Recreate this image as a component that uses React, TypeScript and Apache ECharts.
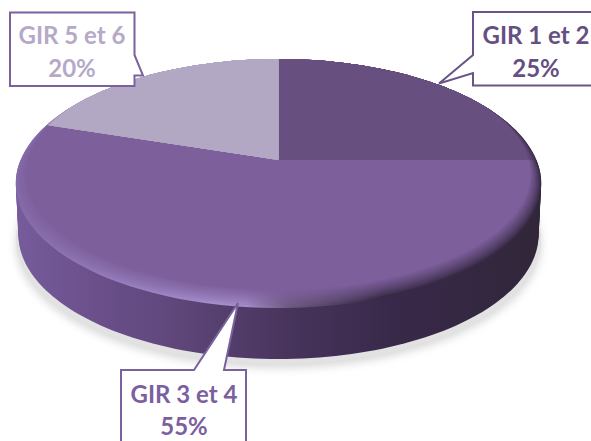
import React, { useEffect, useRef } from "react";
import * as echarts from "echarts";

const categories = ["GIR 1 et 2", "GIR 3 et 4", "GIR 5 et 6"];
const shares = [25, 55, 20];
const faceColors = ["#674f80", "#7d5f9c", "#b3a8c4"];
const labelColors = ["#654f83", "#7c5f9f", "#b5a9c7"];
const borderColors = ["#6a5387", "#7b619e", "#7b619e"];

// Callout outlines: [points], [text x, line 1 y, line 2 y]
const calloutShapes = [
  [[473, 12], [600, 12], [600, 85.5], [473, 85.5], [473, 73], [439, 83.5], [473, 55]],
  [[121, 370], [194, 370], [238, 303], [224, 370], [246, 370], [246, 450], [121, 450]],
  [[10, 12.5], [134.5, 12.5], [134.5, 55], [143, 75.5], [134.5, 75.5], [134.5, 86], [10, 86]],
];
const calloutText = [
  [536, 34, 67],
  [184, 393, 425],
  [72, 34, 67],
];

const CX = 278.5;
const TOP = 59;
const P = -0.1588;
const A = 84.96;
const B = 217;
const DEPTH = 52;
const LAYERS = 10;
const WALL_STEP = 3;

const hex = (c: string) => [1, 3, 5].map((i) => parseInt(c.slice(i, i + 2), 16));
const mix = (a: string, b: string, k: number) => {
  const x = hex(a);
  const y = hex(b);
  return `rgb(${x.map((v, i) => Math.round(v + (y[i] - v) * k)).join(",")})`;
};

// Disc coordinates (u right, v down, in [-1, 1]) to the tilted perspective picture.
const project = (u: number, v: number, dy = 0, sx = 1) => {
  const s = v + 1;
  const q = 1 + P * s;
  return [CX + (sx * B * u) / q, TOP + (A * s) / q + dy];
};
const disc = (t: number) => {
  const a = 2 * Math.PI * t;
  return [Math.sin(a), -Math.cos(a)];
};
const arc = (t0: number, t1: number) => {
  const out: number[] = [];
  const n = Math.max(2, Math.ceil((t1 - t0) * 240));
  for (let i = 0; i <= n; i++) out.push(t0 + ((t1 - t0) * i) / n);
  return out;
};
const total = shares.reduce((a, b) => a + b, 0);
const range = (i: number) => {
  const before = shares.slice(0, i).reduce((a, b) => a + b, 0);
  return [before / total, (before + shares[i]) / total];
};

const wallFill = () =>
  new echarts.graphic.LinearGradient(
    14, 0, 541, 0,
    [
      { offset: 0, color: "#775c9c" },
      { offset: 0.16, color: "#6a4f8a" },
      { offset: 0.32, color: "#5e4679" },
      { offset: 0.45, color: "#4e3a65" },
      { offset: 0.55, color: "#453259" },
      { offset: 0.72, color: "#38294a" },
      { offset: 1, color: "#312639" },
    ],
    true
  );

const renderWall = (params: any) => {
  const i = params.dataIndex;
  const [a, b] = range(i);
  const t0 = Math.max(a, 0.25);
  const t1 = Math.min(b, 0.75);
  if (t1 <= t0) return { type: "group", children: [] };
  const ts = arc(t0, t1);
  const ring = arc(0, 1).map((t) => {
    const [u, v] = disc(t);
    return project(u, v, DEPTH + 4, 1.0);
  });
  const children: any[] = [
    {
      type: "polygon",
      shape: { points: ring },
      style: {
        fill: "#e2e2e2",
        shadowBlur: 8,
        shadowColor: "#d8d8d8",
        shadowOffsetY: 4,
      },
    },
  ];
  // Sweep the lower rim downwards so that the side silhouette is closed.
  for (let dy = 0; dy <= DEPTH; dy += WALL_STEP) {
    const sx = 1 - (0.01 * dy) / DEPTH;
    children.push({
      type: "polygon",
      shape: {
        points: ts.map((t) => {
          const [u, v] = disc(t);
          return project(u, v, dy, sx);
        }),
      },
      style: { fill: wallFill() },
    });
  }
  return { type: "group", children };
};

const renderFace = (params: any) => {
  const i = params.dataIndex;
  const [a, b] = range(i);
  const face = faceColors[i];
  const center = project(0, 0);
  const children: any[] = [];
  for (let l = 0; l < LAYERS; l++) {
    const d = l / (LAYERS - 1);
    const pts = arc(a, b).map((t) => {
      const [u, v] = disc(t);
      const w = Math.max(0, Math.min(1, (v + 0.5) / 1.5));
      return project(u * (1 - 0.09 * w * d), v * (1 - 0.1 * w * d));
    });
    const e = Math.pow(d, 0.8);
    const hi = mix("#a48dcb", face, e);
    const midHi = mix("#957cbc", face, e);
    const lowHi = mix("#846aa8", face, e);
    const grey = mix("#6d5a80", face, e);
    const dark = mix("#372a45", face, e);
    children.push({
      type: "polygon",
      shape: { points: [center, ...pts] },
      style: {
        fill:
          l === LAYERS - 1
            ? face
            : new echarts.graphic.LinearGradient(
                14, 0, 541, 0,
                [
                  { offset: 0, color: lowHi },
                  { offset: 0.2, color: midHi },
                  { offset: 0.38, color: hi },
                  { offset: 0.44, color: hi },
                  { offset: 0.52, color: grey },
                  { offset: 0.7, color: dark },
                  { offset: 1, color: dark },
                ],
                true
              ),
      },
    });
  }
  return { type: "group", children };
};

const buildGraphics = () => {
  const out: any[] = [];
  categories.forEach((name, i) => {
    out.push({
      type: "polygon",
      z: 10,
      shape: { points: calloutShapes[i] },
      style: { fill: "#ffffff", stroke: borderColors[i], lineWidth: 2, lineJoin: "miter" },
    });
    const [x, y1, y2] = calloutText[i];
    [name, `${shares[i]}%`].forEach((text, k) => {
      out.push({
        type: "text",
        z: 11,
        x,
        y: k === 0 ? y1 : y2,
        style: {
          text,
          fill: labelColors[i],
          font: 'bold 24px Lato, "Open Sans", sans-serif',
          align: "center",
          verticalAlign: "middle",
        },
      });
    });
  });
  return out;
};

export default function App() {
  const ref = useRef<HTMLDivElement>(null);
  useEffect(() => {
    const chart = echarts.init(ref.current!, null, { renderer: "svg" });
    const data = categories.map((name, i) => ({ name, value: shares[i] }));
    chart.setOption({
      animation: false,
      backgroundColor: "#ffffff",
      series: [
        { type: "custom", coordinateSystem: "none", silent: true, data, renderItem: renderWall, z: 1 },
        { type: "custom", coordinateSystem: "none", silent: true, data, renderItem: renderFace, z: 2 },
      ],
      graphic: buildGraphics(),
    });
    return () => chart.dispose();
  }, []);
  return (
    <div
      ref={ref}
      style={{ position: "absolute", left: 0, top: 0, width: 591, height: 441, overflow: "hidden" }}
    />
  );
}
